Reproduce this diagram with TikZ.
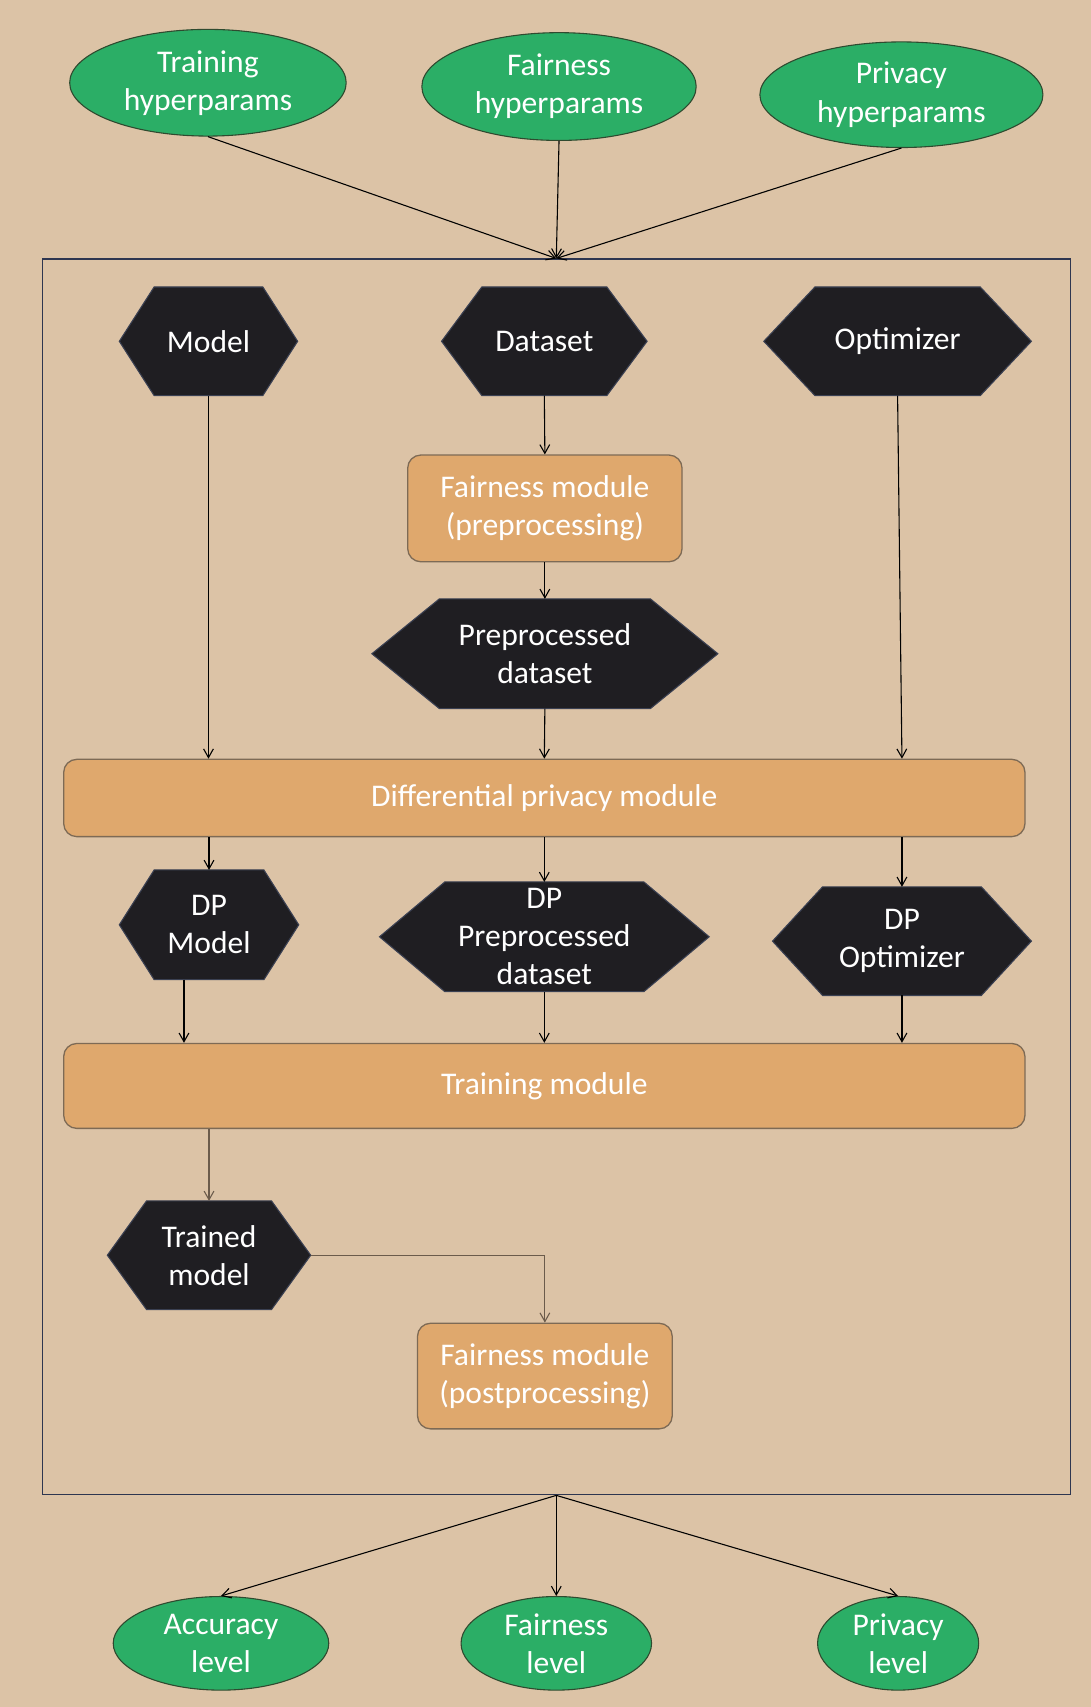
\documentclass[tikz,border=0pt]{standalone}
\usepackage{fontspec}
\setmainfont{Carlito}
\usetikzlibrary{shapes.geometric,arrows.meta}
\pgfdeclarelayer{paper}
\pgfdeclarelayer{hexes}
\pgfsetlayers{paper,hexes,main}
\definecolor{paperbg}{HTML}{DCC3A6}
\definecolor{hypergreen}{HTML}{2BAE66}
\definecolor{greenline}{HTML}{2F4A2F}
\definecolor{hexblack}{HTML}{1F1E22}
\definecolor{hexedge}{HTML}{3A4052}
\definecolor{modorange}{HTML}{DFA86D}
\definecolor{modline}{HTML}{7D6A55}
\definecolor{frameline}{HTML}{2E3650}
\definecolor{brownline}{HTML}{6B5B4B}
\newcommand{\boxfont}{\fontsize{14.5pt}{17.5pt}\selectfont}
\begin{document}
\begin{tikzpicture}[x=0.5pt,y=-0.5pt,
  >={Straight Barb[length=4pt,width=4.5pt]},
  link/.style={->,line width=0.5pt,black},
  oval/.style={ellipse,draw=greenline,line width=0.5pt,fill=hypergreen,text=white,align=center,inner sep=0pt,font=\boxfont},
  module/.style={rectangle,rounded corners=6pt,draw=modline,line width=0.6pt,fill=modorange,text=white,align=center,inner sep=0pt,font=\boxfont},
  hexbox/.style={rectangle,inner sep=0pt,text=white,align=center,font=\boxfont,
    append after command={\pgfextra{\begin{pgfonlayer}{hexes}
      \filldraw[fill=hexblack,draw=hexedge,line width=0.5pt] (\tikzlastnode.west) -- ([xshift=#1]\tikzlastnode.north west)
        -- ([xshift=-#1]\tikzlastnode.north east) -- (\tikzlastnode.east)
        -- ([xshift=-#1]\tikzlastnode.south east) -- ([xshift=#1]\tikzlastnode.south west) -- cycle;
    \end{pgfonlayer}}}}]
% Paper
\begin{pgfonlayer}{paper}
\fill[paperbg] (0,0) rectangle (1002,1568);
\end{pgfonlayer}
\useasboundingbox (0,0) rectangle (1002,1568);

% Hyperparameters
\node[oval,minimum width=127pt,minimum height=49pt] (trainhp) at (191,76) {Training\\hyperparams};
\node[oval,minimum width=126pt,minimum height=49.5pt] (fairhp) at (513.5,79.5) {Fairness\\hyperparams};
\node[oval,minimum width=130pt,minimum height=48.5pt] (privhp) at (828,87) {Privacy\\hyperparams};

% Frame
\node[draw=frameline,line width=0.6pt,minimum width=472pt,minimum height=567.5pt,inner sep=0pt] (frame) at (511,805.5) {};

% Inputs
\node[hexbox=16pt,minimum width=81.5pt,minimum height=49.5pt] (model) at (191.5,313.5) {Model};
\node[hexbox=18.5pt,minimum width=94pt,minimum height=49.5pt] (dataset) at (500,313.5) {Dataset};
\node[hexbox=23.5pt,minimum width=122.5pt,minimum height=49.5pt] (optim) at (824.5,313.5) {Optimizer};

% Preprocessing
\node[module,minimum width=126pt,minimum height=49pt] (fairpre) at (500.5,467) {Fairness module\\(preprocessing)};
\node[hexbox=31pt,minimum width=158.5pt,minimum height=50pt] (prepdata) at (500.5,600.5) {Preprocessed\\dataset};

% Differential privacy
\node[module,minimum width=441.5pt,minimum height=35.5pt] (dpmod) at (500,733) {Differential privacy module};
\node[hexbox=16pt,minimum width=82pt,minimum height=50pt] (dpmodel) at (192,849.5) {DP\\Model};
\node[hexbox=30pt,minimum width=151pt,minimum height=50pt] (dpprep) at (500,860.5) {DP\\Preprocessed\\dataset};
\node[hexbox=23pt,minimum width=118.5pt,minimum height=49.5pt] (dpoptim) at (828.5,864.5) {DP\\Optimizer};

% Training
\node[module,minimum width=441.5pt,minimum height=39pt] (trainmod) at (500,997.5) {Training module};
\node[hexbox=18pt,minimum width=93pt,minimum height=49.5pt] (trained) at (192,1153) {Trained\\model};
\node[module,minimum width=117pt,minimum height=48.5pt] (fairpost) at (500.5,1264) {Fairness module\\(postprocessing)};

% Outputs
\node[oval,minimum width=99pt,minimum height=43pt] (acclvl) at (203,1509.5) {Accuracy\\level};
\node[oval,minimum width=87.5pt,minimum height=43pt] (fairlvl) at (511,1509.5) {Fairness\\level};
\node[oval,minimum width=74pt,minimum height=43pt] (privlvl) at (825,1509.5) {Privacy\\level};

% Connectors
\draw[link] (trainhp.south) -- (frame.north);
\draw[link] (fairhp.south) -- (frame.north);
\draw[link] (privhp.south) -- (frame.north);
\draw[link] (model.south) -- (model.south |- dpmod.north);
\draw[link] (dataset.south) -- (fairpre.north);
\draw[link] (fairpre.south) -- (prepdata.north);
\draw[link] (prepdata.south) -- (dpmod.north);
\draw[link] (optim.south) -- (dpoptim.north |- dpmod.north);
\draw[link] (dpmod.south -| dpmodel.north) -- (dpmodel.north);
\draw[link] (dpmod.south) -- (dpprep.north);
\draw[link] (dpmod.south -| dpoptim.north) -- (dpoptim.north);
\draw[link] ([xshift=-11.5pt]dpmodel.south) -- ([xshift=-11.5pt]dpmodel.south |- trainmod.north);
\draw[link] (dpprep.south) -- (trainmod.north);
\draw[link] (dpoptim.south) -- (dpoptim.south |- trainmod.north);
\draw[link,brownline] (trainmod.south -| trained.north) -- (trained.north);
\draw[link,brownline] (trained.east) -| (fairpost.north);
\draw[link] (frame.south) -- (acclvl.north);
\draw[link] (frame.south) -- (fairlvl.north);
\draw[link] (frame.south) -- (privlvl.north);
\end{tikzpicture}
\end{document}
